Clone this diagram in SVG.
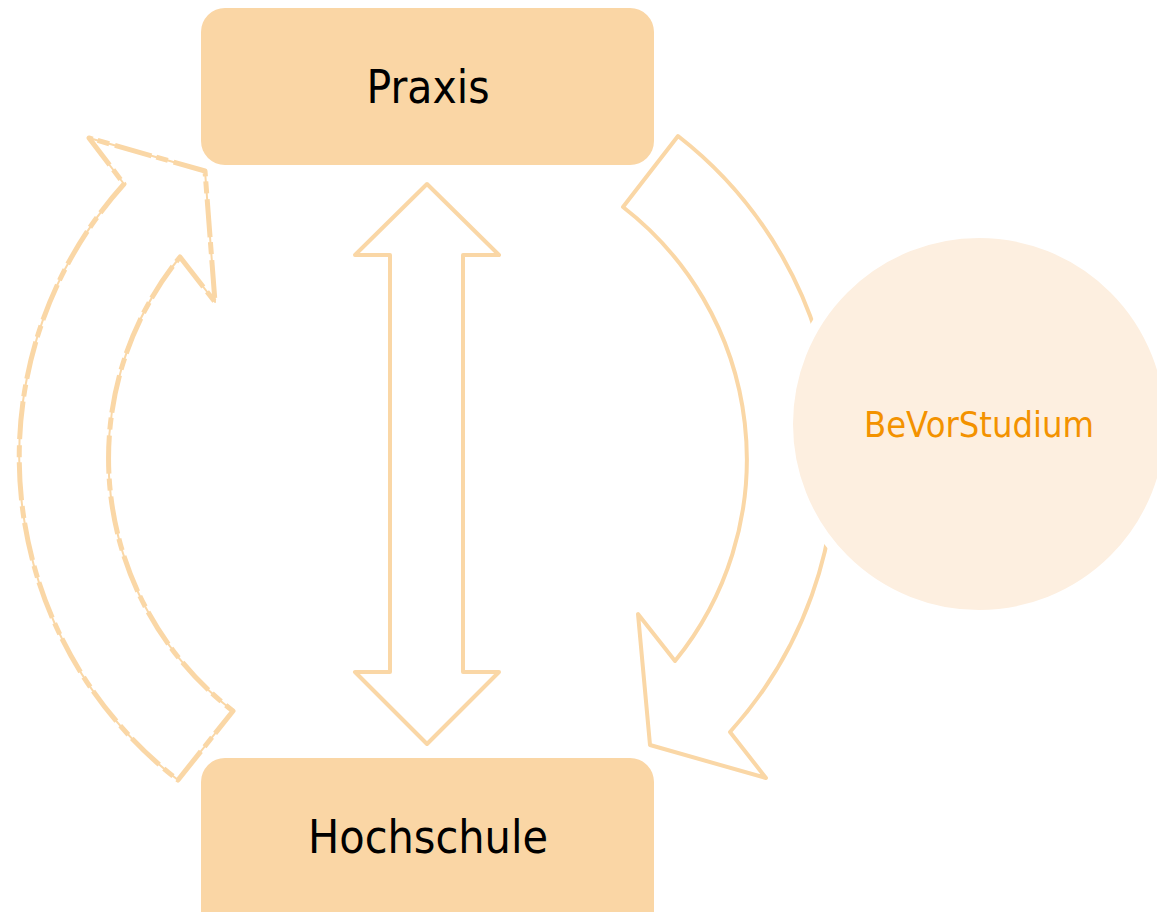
<svg xmlns="http://www.w3.org/2000/svg" width="1157" height="912" viewBox="0 0 1157 912">
<style>
.box{fill:#FAD6A5}
.lbl{font-family:"DejaVu Sans","Liberation Sans",sans-serif;fill:#000;text-anchor:middle}
.arr{fill:#fff;stroke:#FAD7A6;stroke-width:4;stroke-linejoin:round}
.dash{fill:none;stroke:#FAD7A6;stroke-width:5;stroke-dasharray:38 6 12 5;stroke-linejoin:round}
</style>
<rect width="1157" height="912" fill="#fff"/>
<g id="connectors">
  <path id="left-arrow" class="arr" style="stroke-width:2" d="M180,257 L215,302 L205,171 L89,138 L124,184 A408,408 0 0 0 178,780 L233,711 A319,319 0 0 1 180,257 Z"/>
  <path class="dash" d="M180,257 L215,302 L205,171 L89,138 L124,184 A408,408 0 0 0 178,780 L233,711 A319,319 0 0 1 180,257 Z"/>
  <path id="right-arrow" class="arr" d="M675,661 L638,614 L650,745 L766,778 L730,732 A408,408 0 0 0 678,136 L623,207 A319,319 0 0 1 675,661 Z"/>
  <path id="double-arrow" class="arr" d="M427,184 L499,255 L463,255 L463,672 L499,672 L427,744 L355,672 L390,672 L390,255 L355,255 Z"/>
</g>
<g id="praxis">
  <rect class="box" x="201" y="8" width="453" height="157" rx="24"/>
  <text class="lbl" x="428" y="103" font-size="46" textLength="123" lengthAdjust="spacingAndGlyphs">Praxis</text>
</g>
<g id="hochschule">
  <rect class="box" x="201" y="758" width="453" height="190" rx="24"/>
  <text class="lbl" x="428" y="853" font-size="46" textLength="240" lengthAdjust="spacingAndGlyphs">Hochschule</text>
</g>
<g id="bevorstudium">
  <circle cx="979" cy="424" r="191" fill="#FDEFE0" stroke="#fff" stroke-width="10"/>
  <text x="979" y="437" font-family="DejaVu Sans, Liberation Sans, sans-serif" font-size="36" fill="#F39200" text-anchor="middle" textLength="230" lengthAdjust="spacingAndGlyphs">BeVorStudium</text>
</g>
</svg>
